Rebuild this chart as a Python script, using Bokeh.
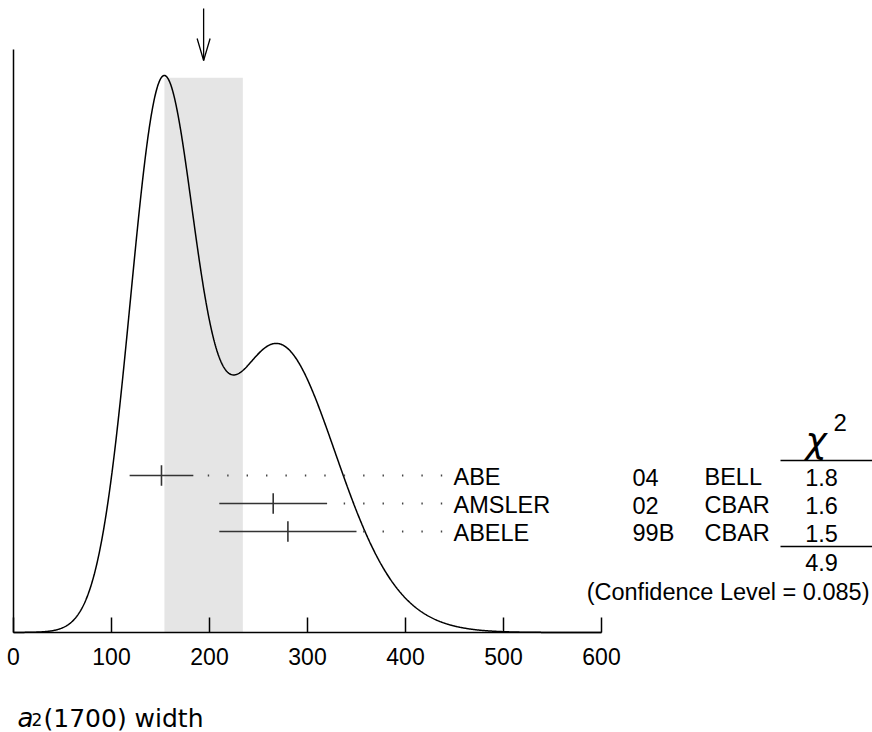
import numpy as np
from bokeh.plotting import figure
from bokeh.models import Range1d, LinearAxis, FixedTicker, ColumnDataSource
from bokeh.core.properties import value
from bokeh.embed import file_html
from bokeh.resources import INLINE

# ---------------- data ----------------
names = ["ABE", "AMSLER", "ABELE"]
years = ["04", "02", "99B"]
experiments = ["BELL", "CBAR", "CBAR"]
values = [151, 265, 280]
err_minus = [32.5, 55, 70]
err_plus = [32.5, 55, 70]
chi2 = [1.8, 1.6, 1.5]
chi2_total = 4.9
conf_level = 0.085
avg_value = 194
avg_error = 40
x_ticks = [0, 100, 200, 300, 400, 500, 600]
x_title_sym = "a"
x_title_sub = "2"
x_title_rest = "(1700) width"

# ---------------- layout (pixels) ----------------
W, H = 872, 732
AXIS_PX = 632           # pixel y of the x axis (value 0 of the curve)
X0_PX = 13.0            # pixel x of value 0
PX_PER_X = 0.98         # pixels per unit on x
PEAK_PX = 75
ROW0_PX = 475
ROW_STEP = 28
PX_PER_Y = AXIS_PX - PEAK_PX
DOT_END_PX = 441
DOT_STEP_PX = 19.42
DOT_GAP_PX = 5
TEXT_DY = 8.5           # svg text baseline correction

def px_x(x):
    return (x - X0_PX) / PX_PER_X

def len_x(px):
    return px / PX_PER_X

def px_y(y):
    return (AXIS_PX - y) / PX_PER_Y

def row_y(y):
    return (y - ROW0_PX) / ROW_STEP

def trow_y(y):
    return row_y(y - TEXT_DY)

FONT = value("Liberation Sans")
FS = value("23.5px")

p = figure(width=W, height=H, output_backend="svg", toolbar_location=None,
           x_axis_type=None, y_axis_type=None,
           x_range=Range1d(px_x(0), px_x(W)),
           y_range=Range1d(px_y(H), px_y(0)),
           min_border=0,
           background_fill_color="white", border_fill_color="white")
p.outline_line_color = None
p.extra_y_ranges = {"rows": Range1d(row_y(H), row_y(0))}

# ---------------- ideogram curve from the measurements ----------------
v = np.array(values, dtype=float)
em = np.array(err_minus, dtype=float)
ep = np.array(err_plus, dtype=float)
xs = np.linspace(0, 600, 1201)
dens = np.zeros_like(xs)
for vi, mi, pi in zip(v, em, ep):
    s = np.where(xs < vi, mi, pi)
    dens += np.exp(-0.5 * ((xs - vi) / s) ** 2) / s ** 2
dens = dens / dens.max()

# shaded band: weighted average +- error
p.quad(left=[avg_value - avg_error], right=[avg_value + avg_error],
       bottom=[0], top=[0.996], fill_color="#e5e5e5", line_color=None)

p.line(xs, dens, line_color="black", line_width=1.5)

# vertical axis line
p.segment(x0=[0], x1=[0], y0=[0], y1=[px_y(49)], line_color="black", line_width=1.5)

# arrow at the average
p.segment(x0=[avg_value], x1=[avg_value], y0=[px_y(8)], y1=[px_y(60)],
          line_color="black", line_width=1.3)
p.line(x=[avg_value - len_x(6.5), avg_value, avg_value + len_x(6.5)],
       y=[px_y(38), px_y(60), px_y(38)], line_color="black", line_width=1.3)

# ---------------- measurements ----------------
rows = np.arange(len(names))
n = len(names)
src = ColumnDataSource(dict(
    val=v, lo=v - em, hi=v + ep, row=rows.astype(float),
    tick_top=rows - 0.37, tick_bot=rows + 0.37,
    text_y=[trow_y(ROW0_PX + 10 + ROW_STEP * r) for r in rows],
    name=names, year=years, exp=experiments,
    chi=[f"{c:.1f}" for c in chi2],
    name_x=[px_x(453)] * n, year_x=[px_x(632)] * n,
    exp_x=[px_x(704)] * n, chi_x=[px_x(821)] * n,
))

# dotted leaders: dots on a fixed grid ending just before the name column
dot_x, dot_y = [], []
for hi, r in zip(v + ep, rows):
    k = 0
    while True:
        xd = px_x(DOT_END_PX - k * DOT_STEP_PX)
        if xd < hi + len_x(DOT_GAP_PX):
            break
        dot_x.append(xd)
        dot_y.append(float(r))
        k += 1
p.rect(x=dot_x, y=dot_y, width=1.4, height=2, width_units="screen",
       height_units="screen", y_range_name="rows", fill_color="#444444",
       line_color=None)

p.segment(x0="lo", x1="hi", y0="row", y1="row", source=src, y_range_name="rows",
          line_color="#333333", line_width=1.6)
p.segment(x0="val", x1="val", y0="tick_top", y1="tick_bot", source=src,
          y_range_name="rows", line_color="#333333", line_width=1.6)

for col, txt in (("name_x", "name"), ("year_x", "year"), ("exp_x", "exp")):
    p.text(x=col, y="text_y", text=txt, source=src, y_range_name="rows",
           text_font=FONT, text_font_size=FS, text_align="left",
           text_baseline="alphabetic", text_color="black")
p.text(x="chi_x", y="text_y", text="chi", source=src, y_range_name="rows",
       text_font=FONT, text_font_size=FS, text_align="center",
       text_baseline="alphabetic", text_color="black")

# chi-square header, rules, total and confidence level
p.text(x=[px_x(805)], y=[trow_y(448)], text=["\u03c7"], y_range_name="rows",
       text_font=value("DejaVu Sans"), text_font_size=value("36px"),
       text_font_style="italic",
       text_align="left", text_baseline="alphabetic", text_color="black")
p.text(x=[px_x(833)], y=[trow_y(430)], text=["2"], y_range_name="rows",
       text_font=FONT, text_font_size=value("24px"),
       text_align="left", text_baseline="alphabetic", text_color="black")
p.segment(x0=[px_x(780)] * 2, x1=[px_x(872)] * 2,
          y0=[row_y(460), row_y(546)], y1=[row_y(460), row_y(546)],
          y_range_name="rows", line_color="black", line_width=1.3)
p.text(x=[px_x(821)], y=[trow_y(570)], text=[f"{chi2_total:.1f}"], y_range_name="rows",
       text_font=FONT, text_font_size=FS, text_align="center",
       text_baseline="alphabetic", text_color="black")
p.text(x=[px_x(869)], y=[trow_y(600)], text=[f"(Confidence Level = {conf_level})"],
       y_range_name="rows", text_font=FONT, text_font_size=FS, text_align="right",
       text_baseline="alphabetic", text_color="black")

# ---------------- x axis (drawn at y = 0 inside the frame) ----------------
xaxis = LinearAxis(ticker=FixedTicker(ticks=x_ticks), bounds=(x_ticks[0], x_ticks[-1]),
                   fixed_location=0)
xaxis.major_tick_in = 15
xaxis.major_tick_out = 0
xaxis.minor_tick_in = 0
xaxis.minor_tick_out = 0
xaxis.axis_line_color = "black"
xaxis.axis_line_width = 1.5
xaxis.major_tick_line_color = "black"
xaxis.major_tick_line_width = 1.5
xaxis.major_label_text_font = "Liberation Sans"
xaxis.major_label_text_font_size = "23px"
xaxis.major_label_text_color = "black"
xaxis.major_label_standoff = 15
p.add_layout(xaxis, "below")

# axis title (left aligned, as in the reference)
p.text(x=[px_x(17)], y=[trow_y(726)], text=[x_title_sym], y_range_name="rows",
       text_font=value("DejaVu Sans"), text_font_size=value("26px"),
       text_font_style="italic", text_align="left", text_baseline="alphabetic",
       text_color="black")
p.text(x=[px_x(31)], y=[trow_y(727)], text=[x_title_sub], y_range_name="rows",
       text_font=value("DejaVu Sans"), text_font_size=value("17px"),
       text_align="left", text_baseline="alphabetic", text_color="black")
p.text(x=[px_x(43)], y=[trow_y(726)], text=[x_title_rest], y_range_name="rows",
       text_font=value("DejaVu Sans"), text_font_size=value("25px"),
       text_align="left", text_baseline="alphabetic", text_color="black")

open("out.html", "w").write(file_html(p, INLINE))
